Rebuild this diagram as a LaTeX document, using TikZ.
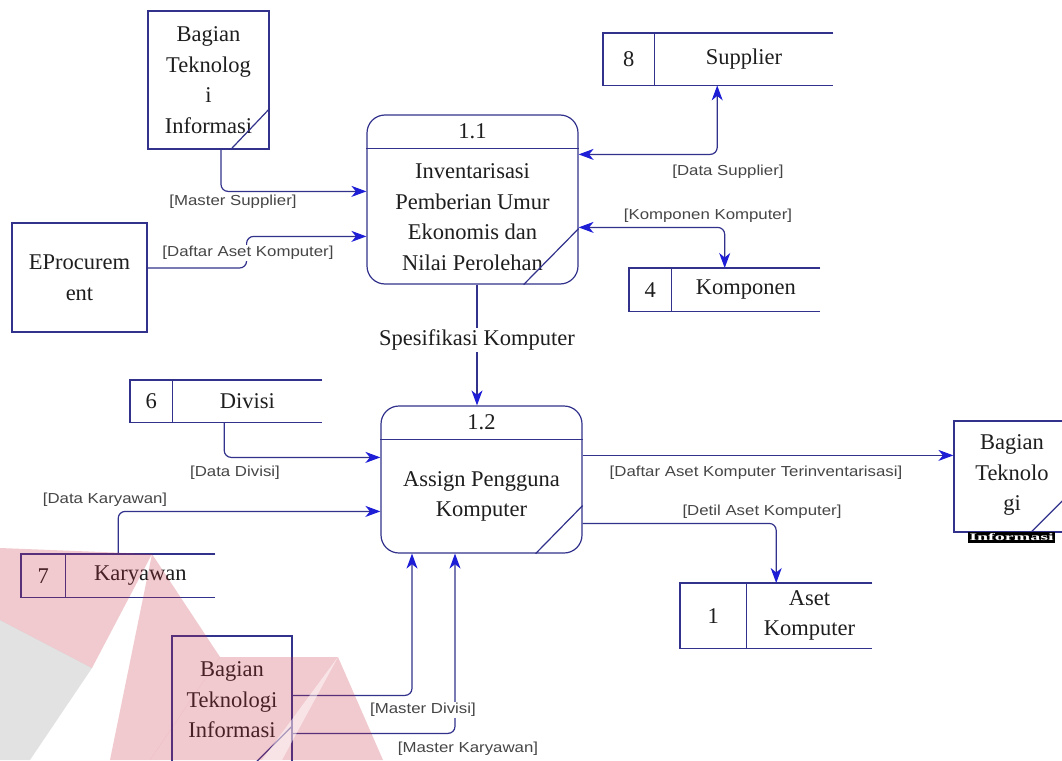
\documentclass[tikz,border=0pt]{standalone}
\usepackage{fontspec}
\setmainfont{Liberation Serif}
\newfontfamily\lblfont[FakeStretch=1.16]{Liberation Sans}
\usetikzlibrary{arrows.meta,calc}

\definecolor{lc}{RGB}{50,50,140}
\definecolor{tipc}{RGB}{30,30,215}
\definecolor{txtc}{RGB}{30,30,30}
\definecolor{lblc}{RGB}{70,70,70}
\definecolor{wmred}{RGB}{200,45,65}
\definecolor{wmgray}{RGB}{140,140,140}

\tikzset{
  box/.style={draw=lc, line width=1.2pt},
  ext/.style={box, inner sep=0pt, text=txtc, align=center,
              font=\fontsize{22.5}{30.5}\selectfont},
  proc/.style={box, rounded corners=18pt, inner sep=0pt},
  txt/.style={text=txtc, font=\fontsize{22.5}{30.5}\selectfont, align=center, inner sep=0pt},
  lbl/.style={text=lblc, font=\lblfont\fontsize{14.5}{16}\selectfont, fill=white, inner sep=1.5pt},
  ftip/.tip={Stealth[length=15pt,width=11pt,inset=4.5pt,color=tipc]},
  flow/.style={draw=lc, line width=1.2pt, rounded corners=7pt, -ftip},
  bothflow/.style={draw=lc, line width=1.2pt, rounded corners=7pt, ftip-ftip},
  storebox/.style={inner sep=0pt},
  storenum/.style={inner sep=0pt, text=txtc, font=\fontsize{22.5}{30.5}\selectfont},
}

% data store: name, left x, top y, width, height, number cell width, number, label
\newcommand\dstore[8]{%
  \node[storebox, minimum width=#4, minimum height=#5, anchor=north west] (#1) at (#2,#3) {};
  \node[storenum, minimum width=#6, minimum height=#5, anchor=north west] (#1n) at (#2,#3) {#7};
  \node[txt] (#1t) at ($(#1n.east)!0.5!(#1.east)$) {#8};
  \draw[box] (#1.north east) -- (#1.north west) -- (#1.south west) -- (#1.south east);
  \draw[box] (#1n.north east) -- (#1n.south east);
}

\begin{document}
\begin{tikzpicture}[x=1pt,y=-1pt]
\useasboundingbox (0,0) rectangle (1062,760);
\clip (0,0) rectangle (1062,760);
\fill[white] (0,0) rectangle (1062,760);

% ---------- external entities ----------
\node[ext, minimum width=121, minimum height=138] (ti1) at (208.5,80) {Bagian\\Teknolog\\i\\Informasi};
\draw[box] ($(ti1.south east)+(-39,0)$) -- ($(ti1.south east)+(0,-41)$);

\node[ext, minimum width=135, minimum height=109] (eproc) at (79.5,277.5) {EProcurem\\ent};

\node[box, inner sep=0pt, minimum width=116, minimum height=111] (ti2) at (1012,476.5) {};
\node[txt] (ti2t) at (1012,475) {Bagian\\Teknolo\\gi};
\draw[box] ($(ti2.south east)+(-40,0)$) -- ($(ti2.south east)+(0,-40)$);
\node[fill=black, text=white, inner sep=0pt, minimum width=87, minimum height=11,
      font=\bfseries\fontsize{20}{20}\selectfont] (ti2b) at (1011.5,537.5) {\scalebox{1}[0.5]{Informasi}};

\node[box, inner sep=0pt, minimum width=120, minimum height=132] (ti3) at (232,702) {};
\node[txt] (ti3t) at (232,700) {Bagian\\Teknologi\\Informasi};
\draw[box] ($(ti3.south east)+(0,-43)$) -- ($(ti3.south east)+(-43,0)$);

% ---------- processes ----------
\node[proc, minimum width=211, minimum height=169] (p1) at (472.5,199.5) {};
\draw[box] ($(p1.north west)+(0,34)$) -- ($(p1.north east)+(0,34)$);
\node[txt] (p1n) at ($(p1.north)+(0,17)$) {1.1};
\node[txt] (p1t) at ($(p1.north)+(0,103)$) {Inventarisasi\\Pemberian Umur\\Ekonomis dan\\Nilai Perolehan};
\draw[box] ($(p1.south east)+(-55,0)$) -- ($(p1.south east)+(0,-56)$);

\node[proc, minimum width=201, minimum height=147] (p2) at (481.5,479.5) {};
\draw[box] ($(p2.north west)+(0,34)$) -- ($(p2.north east)+(0,34)$);
\node[txt] (p2n) at ($(p2.north)+(0,17)$) {1.2};
\node[txt] (p2t) at ($(p2.north)+(0,91)$) {Assign Pengguna\\Komputer};
\draw[box] ($(p2.south east)+(-47,0)$) -- ($(p2.south east)+(0,-48)$);

% ---------- data stores ----------
\dstore{s8}{603}{33}{230}{52}{51}{8}{Supplier}
\dstore{s4}{629}{268}{191}{43}{42}{4}{Komponen}
\dstore{s6}{130}{380}{192}{42}{42}{6}{Divisi}
\dstore{s7}{21}{554}{194}{43}{44}{7}{Karyawan}
\dstore{s1}{680}{583}{192}{65}{66}{1}{Aset\\Komputer}

% ---------- flows ----------
\draw[flow] ($(ti1.south)+(12.5,0)$) |- ($(p1.north west)+(0,77)$);
\node[lbl] (lms) at (233,202) {[Master Supplier]};

\draw[flow] ($(eproc.east)+(0,-9.5)$) -- ++(99,0) |- ($(p1.north west)+(0,122)$);
\node[lbl] (ldak) at (248,253) {[Daftar Aset Komputer]};

\draw[bothflow] ($(p1.north east)+(0,40)$) -| ($(s8.south)+(-1,0)$);
\node[lbl] (lds) at (728,172) {[Data Supplier]};

\draw[bothflow] ($(p1.north east)+(0,113)$) -| (s4.north);
\node[lbl] (lkk) at (708,216) {[Komponen Komputer]};

\draw[flow] ($(p1.south)+(4.5,0)$) -- ($(p2.north)+(-4.5,0)$);
\node[txt, fill=white, inner sep=2pt] (lsk) at (477,340) {Spesifikasi Komputer};

\draw[flow] ($(s6.south)+(-2,0)$) |- ($(p2.north west)+(0,52)$);
\node[lbl] (ldd) at (235,473) {[Data Divisi]};

\draw[flow] (s7.north) |- ($(p2.north west)+(0,106)$);
\node[lbl] (ldk) at (105,500) {[Data Karyawan]};

\coordinate (p2o) at ($(p2.north east)+(0,50)$);
\draw[flow] (p2o) -- (p2o -| ti2.west);
\node[lbl] (ldat) at (756,473) {[Daftar Aset Komputer Terinventarisasi]};

\draw[flow] ($(p2.north east)+(0,118)$) -| (s1.north);
\node[lbl] (ldet) at (762,512) {[Detil Aset Komputer]};

\draw[flow] ($(ti3.north east)+(0,60)$) -| ($(p2.south)+(-69.5,0)$);
\draw[flow] ($(ti3.north east)+(0,98)$) -| ($(p2.south)+(-26.5,0)$);
\node[lbl] (lmd) at (423,710) {[Master Divisi]};
\node[lbl] (lmk) at (468,749) {[Master Karyawan]};

% ---------- faint logo in the lower left ----------
\begin{scope}[fill opacity=0.25]
  \fill[wmred] (0,548) -- (152,554) -- (92,668) -- (0,620) -- cycle;
  \fill[wmgray] (0,620) -- (92,668) -- (30,760) -- (0,760) -- cycle;
  \fill[wmred] (152,554) -- (110,760) -- (150,760) -- (220,657) -- cycle;
  \fill[wmred] (220,657) -- (338,657) -- (383,760) -- (150,760) -- cycle;
\end{scope}
\fill[white, fill opacity=0.5] (338,657) -- (262,760) -- (282,760) -- cycle;
\end{tikzpicture}
\end{document}
